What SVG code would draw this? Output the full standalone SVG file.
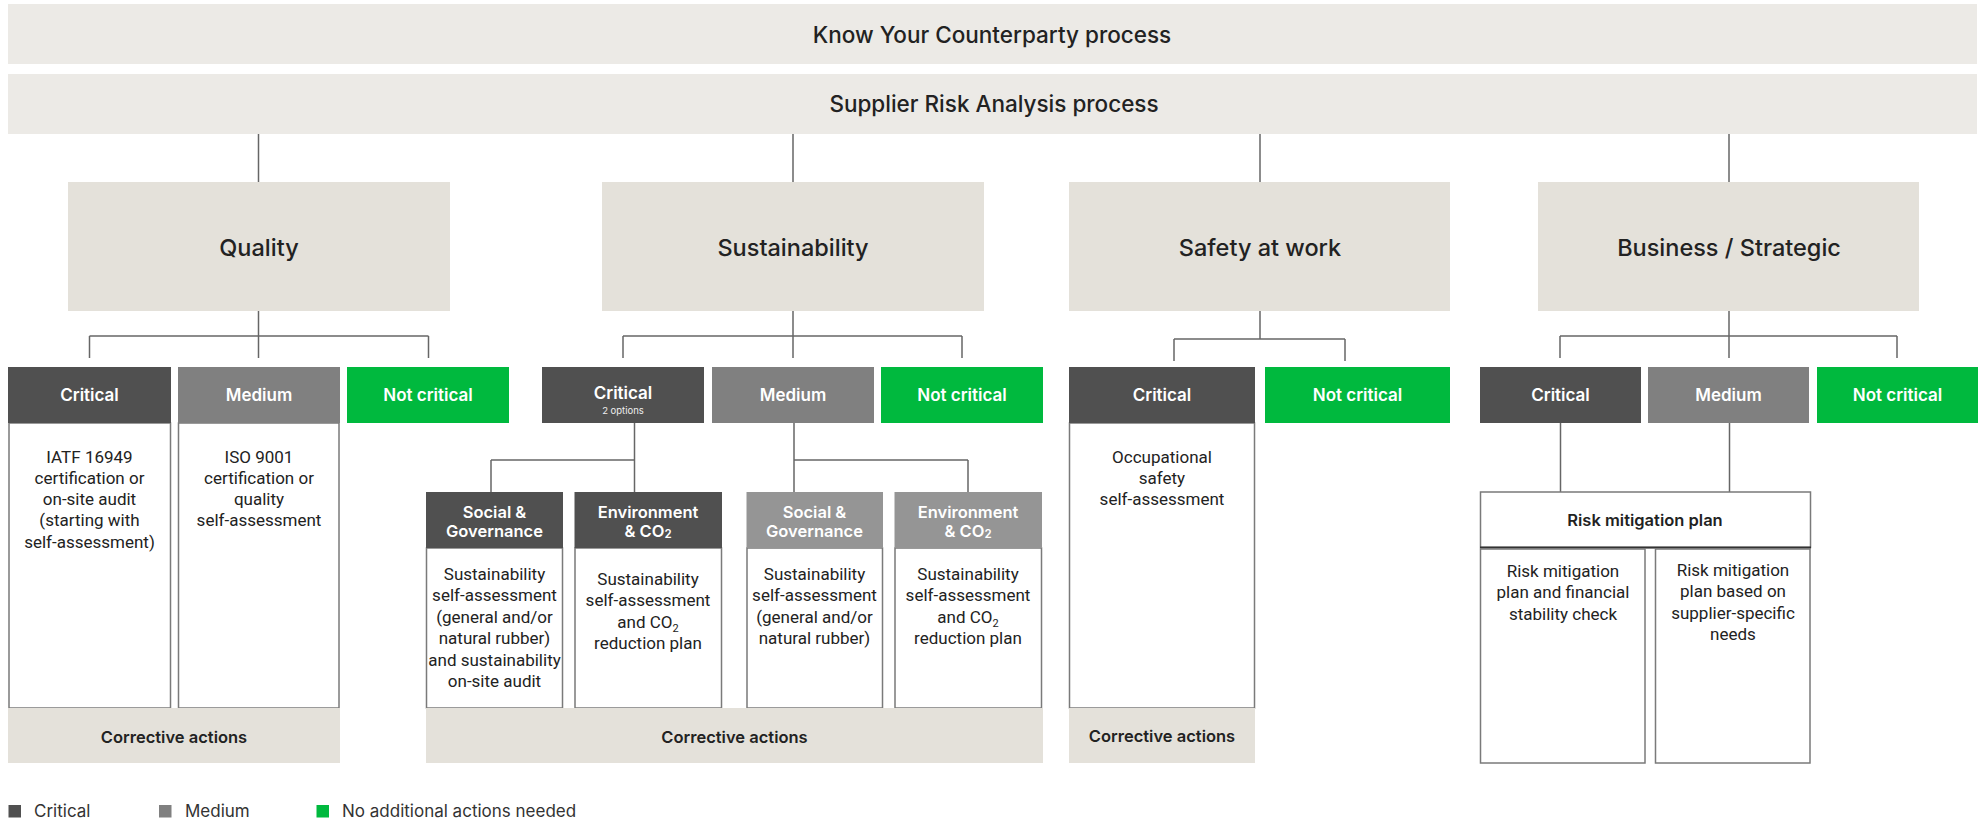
<svg xmlns="http://www.w3.org/2000/svg" width="1982" height="822" viewBox="0 0 1982 822">
<style>
text{font-family:Roboto,"Liberation Sans",Arial,sans-serif;text-anchor:middle;fill:#222}
.bar{fill:#ECEAE6}
.cat{fill:#E4E1DA}
.crit{fill:#505050}
.med{fill:#808080}
.med2{fill:#959595}
.nc{fill:#00B93E}
.box{fill:#fff;stroke:#7a7a7a;stroke-width:1.5}
.t1{font-family:Inter,Roboto,sans-serif;font-size:22.5px;font-weight:500}
.t2{font-family:Inter,Roboto,sans-serif;font-size:23.5px;font-weight:500}
.hd{font-family:Inter,Roboto,sans-serif;font-size:17px;font-weight:600;fill:#fff}
.sh{font-family:Inter,Roboto,sans-serif;font-size:16.5px;font-weight:600;fill:#fff}
.sm{font-family:Inter,Roboto,sans-serif;font-size:9.5px;fill:#eee}
.bd{font-size:17px}
.ca{font-family:Inter,Roboto,sans-serif;font-size:16.5px;font-weight:600}
.lg{font-family:Inter,Roboto,sans-serif;font-size:17px;text-anchor:start;fill:#333}
.conn line{stroke:#666;stroke-width:1.5}
</style>
<rect width="1982" height="822" fill="#fff"/>

<g id="kyc"><rect class="bar" x="8" y="4" width="1969" height="60"/><text class="t1" x="992" y="43">Know Your Counterparty process</text></g>
<g id="sra"><rect class="bar" x="8" y="74" width="1969" height="60"/><text class="t1" x="994" y="112">Supplier Risk Analysis process</text></g>

<g class="conn" id="connectors">
<line x1="258.5" y1="134" x2="258.5" y2="182"/>
<line x1="793" y1="134" x2="793" y2="182"/>
<line x1="1260" y1="134" x2="1260" y2="182"/>
<line x1="1729" y1="134" x2="1729" y2="182"/>
<line x1="258.5" y1="311" x2="258.5" y2="358"/>
<line x1="89.5" y1="336" x2="428.5" y2="336"/>
<line x1="89.5" y1="336" x2="89.5" y2="358"/>
<line x1="428.5" y1="336" x2="428.5" y2="358"/>
<line x1="793" y1="311" x2="793" y2="358"/>
<line x1="623" y1="336" x2="962" y2="336"/>
<line x1="623" y1="336" x2="623" y2="358"/>
<line x1="962" y1="336" x2="962" y2="358"/>
<line x1="1260" y1="311" x2="1260" y2="339"/>
<line x1="1174" y1="339" x2="1345" y2="339"/>
<line x1="1174" y1="339" x2="1174" y2="361"/>
<line x1="1345" y1="339" x2="1345" y2="361"/>
<line x1="1729" y1="311" x2="1729" y2="358"/>
<line x1="1560" y1="336" x2="1897" y2="336"/>
<line x1="1560" y1="336" x2="1560" y2="358"/>
<line x1="1897" y1="336" x2="1897" y2="358"/>
<line x1="634.5" y1="423" x2="634.5" y2="492"/>
<line x1="491" y1="460" x2="634.5" y2="460"/>
<line x1="491" y1="460" x2="491" y2="492"/>
<line x1="794" y1="423" x2="794" y2="492"/>
<line x1="794" y1="460" x2="968" y2="460"/>
<line x1="968" y1="460" x2="968" y2="492"/>
<line x1="1560.5" y1="423" x2="1560.5" y2="492"/>
<line x1="1729.5" y1="423" x2="1729.5" y2="492"/>
</g>

<g id="quality"><rect class="cat" x="68" y="182" width="382" height="129"/><text class="t2" x="259" y="256">Quality</text></g>
<g id="sustainability"><rect class="cat" x="602" y="182" width="382" height="129"/><text class="t2" x="793" y="256">Sustainability</text></g>
<g id="safety"><rect class="cat" x="1069" y="182" width="381" height="129"/><text class="t2" x="1260" y="256">Safety at work</text></g>
<g id="business"><rect class="cat" x="1538" y="182" width="381" height="129"/><text class="t2" x="1729" y="256">Business / Strategic</text></g>

<!-- Quality severities -->
<g id="q-crit">
<rect class="box" x="9" y="423" width="161.5" height="285"/>
<rect class="crit" x="8" y="367" width="163" height="56"/><text class="hd" x="89.5" y="401">Critical</text>
<text class="bd" x="89.5" y="462.5">IATF 16949</text>
<text class="bd" x="89.5" y="483.8">certification or</text>
<text class="bd" x="89.5" y="505">on-site audit</text>
<text class="bd" x="89.5" y="526.3">(starting with</text>
<text class="bd" x="89.5" y="547.5">self-assessment)</text>
</g>
<g id="q-med">
<rect class="box" x="178.5" y="423" width="160.5" height="285"/>
<rect class="med" x="178" y="367" width="162" height="56"/><text class="hd" x="259" y="401">Medium</text>
<text class="bd" x="259" y="462.5">ISO 9001</text>
<text class="bd" x="259" y="483.8">certification or</text>
<text class="bd" x="259" y="505">quality</text>
<text class="bd" x="259" y="526.3">self-assessment</text>
</g>
<g id="q-nc"><rect class="nc" x="347" y="367" width="162" height="56"/><text class="hd" x="428" y="401">Not critical</text></g>
<g id="q-ca"><rect class="cat" x="8" y="708" width="332" height="55"/><text class="ca" x="174" y="743">Corrective actions</text></g>

<!-- Sustainability severities -->
<g id="s-crit"><rect class="crit" x="542" y="367" width="162" height="56"/><text class="hd" x="623" y="399">Critical</text><text class="sm" x="623" y="413.5">2 options</text></g>
<g id="s-med"><rect class="med" x="712" y="367" width="162" height="56"/><text class="hd" x="793" y="401">Medium</text></g>
<g id="s-nc"><rect class="nc" x="881" y="367" width="162" height="56"/><text class="hd" x="962" y="401">Not critical</text></g>

<g id="s-crit-sg">
<rect class="box" x="426.5" y="548" width="136" height="160"/>
<rect class="crit" x="426" y="492" width="137" height="56"/>
<text class="sh" x="494.5" y="517.5">Social &amp;</text><text class="sh" x="494.5" y="536.5">Governance</text>
<text class="bd" x="494.5" y="580">Sustainability</text>
<text class="bd" x="494.5" y="601.4">self-assessment</text>
<text class="bd" x="494.5" y="622.8">(general and/or</text>
<text class="bd" x="494.5" y="644.2">natural rubber)</text>
<text class="bd" x="494.5" y="665.6">and sustainability</text>
<text class="bd" x="494.5" y="687">on-site audit</text>
</g>
<g id="s-crit-env">
<rect class="box" x="575" y="548" width="146.5" height="160"/>
<rect class="crit" x="574.5" y="492" width="147.5" height="56"/>
<text class="sh" x="648" y="517.5">Environment</text><text class="sh" x="648" y="536.5">&amp; CO<tspan font-size="11.5" dy="1">2</tspan></text>
<text class="bd" x="648" y="585">Sustainability</text>
<text class="bd" x="648" y="606.4">self-assessment</text>
<text class="bd" x="648" y="627.8">and CO<tspan font-size="11" dy="4">2</tspan></text>
<text class="bd" x="648" y="649.2">reduction plan</text>
</g>
<g id="s-med-sg">
<rect class="box" x="747" y="548" width="135.5" height="160"/>
<rect class="med2" x="746.5" y="492" width="136.5" height="56"/>
<text class="sh" x="814.5" y="517.5">Social &amp;</text><text class="sh" x="814.5" y="536.5">Governance</text>
<text class="bd" x="814.5" y="580">Sustainability</text>
<text class="bd" x="814.5" y="601.4">self-assessment</text>
<text class="bd" x="814.5" y="622.8">(general and/or</text>
<text class="bd" x="814.5" y="644.2">natural rubber)</text>
</g>
<g id="s-med-env">
<rect class="box" x="895" y="548" width="146.5" height="160"/>
<rect class="med2" x="894.5" y="492" width="147.5" height="56"/>
<text class="sh" x="968" y="517.5">Environment</text><text class="sh" x="968" y="536.5">&amp; CO<tspan font-size="11.5" dy="1">2</tspan></text>
<text class="bd" x="968" y="580">Sustainability</text>
<text class="bd" x="968" y="601.4">self-assessment</text>
<text class="bd" x="968" y="622.8">and CO<tspan font-size="11" dy="4">2</tspan></text>
<text class="bd" x="968" y="644.2">reduction plan</text>
</g>
<g id="s-ca"><rect class="cat" x="426" y="708" width="617" height="55"/><text class="ca" x="734.5" y="743">Corrective actions</text></g>

<!-- Safety -->
<g id="w-crit">
<rect class="box" x="1069.5" y="423" width="185" height="285"/>
<rect class="crit" x="1069" y="367" width="186" height="56"/><text class="hd" x="1162" y="401">Critical</text>
<text class="bd" x="1162" y="462.5">Occupational</text>
<text class="bd" x="1162" y="483.8">safety</text>
<text class="bd" x="1162" y="505">self-assessment</text>
</g>
<g id="w-nc"><rect class="nc" x="1265" y="367" width="185" height="56"/><text class="hd" x="1357.5" y="401">Not critical</text></g>
<g id="w-ca"><rect class="cat" x="1069" y="708" width="186" height="55"/><text class="ca" x="1162" y="742">Corrective actions</text></g>

<!-- Business -->
<g id="b-crit"><rect class="crit" x="1480" y="367" width="161" height="56"/><text class="hd" x="1560.5" y="401">Critical</text></g>
<g id="b-med"><rect class="med" x="1648" y="367" width="161" height="56"/><text class="hd" x="1728.5" y="401">Medium</text></g>
<g id="b-nc"><rect class="nc" x="1817" y="367" width="161" height="56"/><text class="hd" x="1897.5" y="401">Not critical</text></g>
<g id="b-rmp">
<rect class="box" x="1480.5" y="492" width="330" height="55.5" stroke="#666"/>
<line x1="1480" y1="547.5" x2="1811" y2="547.5" stroke="#333" stroke-width="2"/>
<text class="ca" x="1645" y="526" font-size="17">Risk mitigation plan</text>
</g>
<g id="b-rmp-left">
<rect class="box" x="1480.5" y="549" width="164.5" height="214"/>
<text class="bd" x="1563" y="577">Risk mitigation</text>
<text class="bd" x="1563" y="598.3">plan and financial</text>
<text class="bd" x="1563" y="619.6">stability check</text>
</g>
<g id="b-rmp-right">
<rect class="box" x="1655.5" y="549" width="154.5" height="214"/>
<text class="bd" x="1733" y="576">Risk mitigation</text>
<text class="bd" x="1733" y="597.3">plan based on</text>
<text class="bd" x="1733" y="618.6">supplier-specific</text>
<text class="bd" x="1733" y="639.9">needs</text>
</g>

<!-- Legend -->
<g id="legend">
<rect class="crit" x="8.5" y="805" width="12.5" height="12.5"/><text class="lg" x="34" y="817">Critical</text>
<rect class="med" x="159" y="805" width="12.5" height="12.5"/><text class="lg" x="185" y="817">Medium</text>
<rect class="nc" x="316.5" y="805" width="12.5" height="12.5"/><text class="lg" x="342" y="817">No additional actions needed</text>
</g>
</svg>
